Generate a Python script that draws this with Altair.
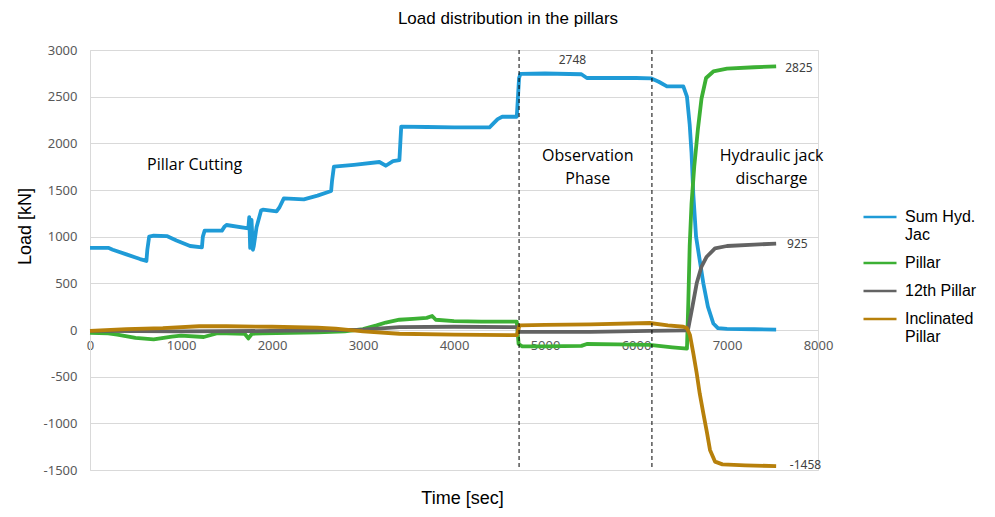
import altair as alt
import pandas as pd

# ---- data ----
series_names = ["Sum Hyd. Jac", "Pillar", "12th Pillar", "Inclinated Pillar"]
series_colors = ["#1f9bd7", "#3cb034", "#636363", "#b7800b"]

jac_t = [0, 200, 250, 400, 550, 620, 630, 650, 700, 850, 950, 1100, 1230, 1240, 1260, 1450,
         1480, 1500, 1740, 1750, 1760, 1775, 1790, 1800, 1830, 1880, 1900, 2050, 2080, 2130,
         2350, 2500, 2650, 2660, 2680, 2900, 3180, 3250, 3330, 3400, 3410, 3420, 3700, 4000,
         4390, 4420, 4480, 4530, 4690, 4700, 4715, 4730, 5000, 5400, 5460, 5500, 6000, 6170,
         6250, 6340, 6520, 6560, 6590, 6610, 6630, 6660, 6700, 6740, 6790, 6850, 6900, 7000,
         7300, 7540]
jac_v = [880, 880, 860, 810, 760, 740, 860, 1000, 1010, 1005, 960, 900, 885, 1000, 1065, 1065,
         1110, 1125, 1090, 1210, 880, 1180, 860, 900, 1100, 1280, 1290, 1270, 1310, 1410,
         1400, 1440, 1490, 1600, 1750, 1770, 1800, 1760, 1810, 1820, 2000, 2180, 2175, 2170,
         2170, 2200, 2260, 2285, 2285, 2450, 2700, 2745, 2748, 2740, 2700, 2700, 2700, 2695,
         2660, 2610, 2610, 2500, 2200, 1900, 1450, 1000, 750, 500, 250, 70, 20, 12,
         8, 5]

pillar_t = [0, 200, 300, 500, 700, 900, 1000, 1250, 1400, 1500, 1700, 1740, 1780, 1900, 2200,
            2500, 2800, 3000, 3150, 3250, 3400, 3550, 3700, 3760, 3800, 4000, 4300, 4690, 4710,
            4750, 5000, 5400, 5460, 5800, 6150, 6400, 6560, 6575, 6590, 6610, 6640, 6680, 6720,
            6770, 6850, 7000, 7300, 7540]
pillar_v = [-30, -35, -50, -85, -100, -70, -60, -75, -35, -35, -40, -90, -40, -35, -30,
            -25, -15, 10, 50, 80, 110, 120, 130, 150, 110, 95, 90, 90, -150,
            -175, -175, -170, -150, -155, -160, -185, -200, 300, 900, 1350, 1750, 2150, 2480,
            2700, 2770, 2800, 2815, 2825]

p12_t = [0, 1000, 2000, 2500, 3000, 3400, 4000, 4690, 4720, 5500, 6150, 6560, 6575, 6620,
         6667, 6720, 6777, 6868, 7000, 7300, 7540]
p12_v = [-10, -15, -10, -5, 5, 30, 35, 30, -20, -20, -10, -5, 20, 250,
         500, 680, 785, 875, 900, 915, 925]

incl_t = [0, 400, 800, 1200, 1500, 2000, 2500, 2700, 3000, 3400, 4000, 4690, 4720, 5000, 5500,
          6150, 6350, 6520, 6560, 6593, 6630, 6667, 6700, 6740, 6780, 6813, 6868, 6950, 7200,
          7540]
incl_v = [-10, 10, 20, 40, 40, 35, 25, 15, -15, -40, -50, -55, 50, 55, 60,
          75, 50, 35, 20, -54, -250, -464, -680, -893, -1100, -1285, -1410, -1440, -1450,
          -1458]

phase_t = [4715, 6175]

value_label_t = [5150, 7640, 7660, 7690]
value_label_v = [2895, 2810, 925, -1450]
value_label_text = ["2748", "2825", "925", "-1458"]

note_t = [1150, 5470, 7490]
note_v = [1770, 1860, 1860]
note_text = ["Pillar Cutting", "Observation\nPhase", "Hydraulic jack\ndischarge"]

x_ticks = [0, 1000, 2000, 3000, 4000, 5000, 6000, 7000, 8000]
y_ticks = [-1500, -1000, -500, 0, 500, 1000, 1500, 2000, 2500, 3000]

# ---- tables ----
rows = []
for name, ts, vs in zip(series_names,
                        [jac_t, pillar_t, p12_t, incl_t],
                        [jac_v, pillar_v, p12_v, incl_v]):
    for i, (t, v) in enumerate(zip(ts, vs)):
        rows.append({"series": name, "t": t, "load": v, "idx": i})
lines_df = pd.DataFrame(rows)
phase_df = pd.DataFrame({"t": phase_t})
vlab_df = pd.DataFrame({"t": value_label_t, "load": value_label_v, "txt": value_label_text})
note_df = pd.DataFrame({"t": note_t, "load": note_v, "txt": note_text})

xscale = alt.Scale(domain=[0, 8000], nice=False)
yscale = alt.Scale(domain=[-1500, 3000], nice=False)

legend_expr = ("datum.label == 'Sum Hyd. Jac' ? ['Sum Hyd.', 'Jac'] : "
               "datum.label == 'Inclinated Pillar' ? ['Inclinated', 'Pillar'] : datum.label")

lines = alt.Chart(lines_df).mark_line(strokeWidth=3.8, strokeJoin="round").encode(
    x=alt.X("t:Q", scale=xscale,
            axis=alt.Axis(values=x_ticks, labelExpr="'' + datum.value", offset=-140,
                          grid=False, domain=False,
                          ticks=False, labelFlush=False, labelPadding=9, labelFont="Noto Sans",
                          labelFontSize=13, labelColor="#595959", title="Time [sec]",
                          titleFont="Liberation Sans", titleFontSize=18,
                          titleFontWeight="normal", titleColor="#000000",
                          titleX=372, titleY=168, titleBaseline="middle")),
    y=alt.Y("load:Q", scale=yscale,
            axis=alt.Axis(values=y_ticks, labelExpr="'' + datum.value", grid=True,
                          gridColor="#d9d9d9",
                          domain=True, domainColor="#d9d9d9", ticks=False, labelPadding=13,
                          labelFont="Noto Sans", labelFontSize=13, labelColor="#595959",
                          title="Load [kN]", titleFont="Liberation Sans", titleFontSize=18,
                          titleFontWeight="normal", titleColor="#000000", titleX=-65,
                          titleY=176, titleBaseline="middle")),
    color=alt.Color("series:N",
                    scale=alt.Scale(domain=series_names, range=series_colors),
                    legend=alt.Legend(title=None, orient="none", legendX=772, legendY=149,
                                      symbolType="stroke", symbolSize=1089,
                                      symbolStrokeWidth=2.5, labelFont="Liberation Sans",
                                      labelFontSize=16, labelColor="#000000", labelLimit=200,
                                      labelExpr=legend_expr, rowPadding=2,
                                      labelOffset=7)),
    order=alt.Order("idx:Q"),
)

rules = alt.Chart(phase_df).mark_rule(color="#000000", strokeDash=[4, 3], strokeWidth=1).encode(
    x=alt.X("t:Q", scale=xscale)
)

vlabels = alt.Chart(vlab_df).mark_text(font="Noto Sans", fontSize=12, color="#404040",
                                       align="left", baseline="middle").encode(
    x=alt.X("t:Q", scale=xscale), y=alt.Y("load:Q", scale=yscale), text="txt:N"
)

notes = alt.Chart(note_df).mark_text(font="Open Sans", fontSize=16, color="#000000",
                                     align="center", baseline="middle", lineBreak="\n",
                                     lineHeight=23).encode(
    x=alt.X("t:Q", scale=xscale), y=alt.Y("load:Q", scale=yscale), text="txt:N"
)

chart = alt.layer(lines, rules, vlabels, notes).properties(
    width=728, height=420,
    title=alt.TitleParams("Load distribution in the pillars", font="Liberation Sans",
                          fontSize=17, fontWeight="normal", color="#000000",
                          anchor="middle", dx=54, offset=16),
    autosize=alt.AutoSizeParams(type="none"),
    padding={"left": 82, "top": 42, "right": 169, "bottom": 39},
).configure_view(stroke=None).configure(background="#ffffff")

chart.save("out.html", embed_options={"renderer": "svg", "actions": False})
